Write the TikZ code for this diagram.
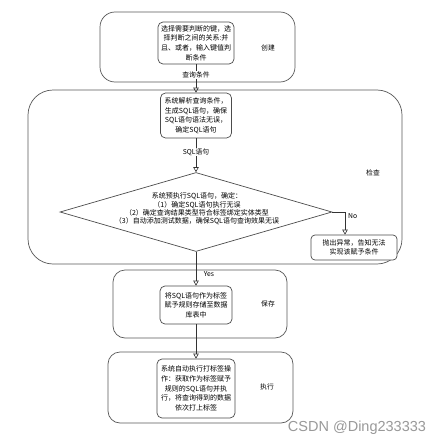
\documentclass[tikz,border=0pt]{standalone}
\usepackage{fontspec}
\setmainfont{Noto Sans CJK SC}
\newfontfamily\wmfont{Liberation Sans}
\usetikzlibrary{arrows.meta,shapes.geometric,calc}
\begin{document}
\begin{tikzpicture}[x=1pt,y=-1pt,
  outerbox/.style={draw=black!65, line width=0.7pt, fill=white, inner sep=0pt},
  innerbox/.style={draw=black!70, fill=white, rounded corners=5pt, line width=0.7pt, align=center,
     font=\fontsize{7}{9.6}\selectfont, inner sep=0pt},
  conn/.style={draw=black!80, line width=0.6pt, -{Triangle[open,length=5pt,width=5.5pt]}},
  lbl/.style={font=\fontsize{6.8}{8}\selectfont, fill=white, inner sep=0.8pt},
  side/.style={font=\fontsize{6.8}{8}\selectfont, inner sep=0pt}]
\useasboundingbox[fill=white] (0,0) rectangle (447,447);

% outer stage boxes
\node[outerbox, rounded corners=15pt, minimum width=195pt, minimum height=70pt] (createbox) at (197.5,47) {};
\node[outerbox, rounded corners=25pt, minimum width=374pt, minimum height=174pt] (checkbox) at (215,177) {};
\node[outerbox, rounded corners=12pt, minimum width=174pt, minimum height=68pt] (savebox) at (200,304) {};
\node[outerbox, rounded corners=12pt, minimum width=185pt, minimum height=71pt] (execbox) at (200.5,387.5) {};

% side labels
\node[side] (lcreate) at (268,48) {创建};
\node[side] (lcheck) at (373,173) {检查};
\node[side] (lsave) at (268,304) {保存};
\node[side] (lexec) at (267,387) {执行};

% inner nodes
\node[innerbox, minimum width=76pt, minimum height=42pt] (sel) at (196,43)
  {选择需要判断的键，选\\择判断之间的关系:并\\且、或者，输入键值判\\断条件};
\node[innerbox, minimum width=71pt, minimum height=45pt] (parse) at (196,115.5)
  {系统解析查询条件，\\生成SQL语句，确保\\SQL语句语法无误，\\确定SQL语句};
\node[draw=black!70, fill=white, line width=0.7pt, shape=diamond, minimum width=272pt, minimum height=79pt, inner sep=0pt] (dia) at (196,212) {};
\node[align=center, font=\fontsize{7}{8.4}\selectfont, inner sep=0pt] (diatext) at (197,209)
  {系统预执行SQL语句，确定：\\（1）确定SQL语句执行无误\\（2）确定查询结果类型符合标签绑定实体类型\\（3）自动添加测试数据，确保SQL语句查询效果无误};
\node[innerbox, rounded corners=4pt, minimum width=86pt, minimum height=25pt, font=\fontsize{7}{9.2}\selectfont] (exc) at (354,247.5)
  {抛出异常，告知无法\\实现该赋予条件};
\node[innerbox, minimum width=72pt, minimum height=38pt] (store) at (196,305)
  {将SQL语句作为标签\\赋予规则存储至数据\\库表中};
\node[innerbox, minimum width=78pt, minimum height=59pt] (run) at (196,388.5)
  {系统自动执行打标签操\\作：获取作为标签赋予\\规则的SQL语句并执\\行，将查询得到的数据\\依次打上标签};

% connectors
\draw[conn] (sel) -- node[lbl, pos=0.38] (l1) {查询条件} (parse);
\draw[conn] (parse) -- node[lbl, pos=0.4] (l2) {SQL语句} (dia.north);
\coordinate (noC) at (345,212);
\draw[conn] (dia.east) -- (noC) -- (noC |- exc.north);
\node[side, anchor=west] (lno) at (348,216) {No};
\draw[conn] (dia.south) -- (store);
\node[side] (lyes) at (209,274) {Yes};
\draw[conn] (store) -- (run);

% watermark
\node[font=\wmfont\fontsize{14.5}{16}\selectfont, text=black!40, inner sep=0pt] (wm) at (357,428) {CSDN @Ding233333};
\end{tikzpicture}
\end{document}
